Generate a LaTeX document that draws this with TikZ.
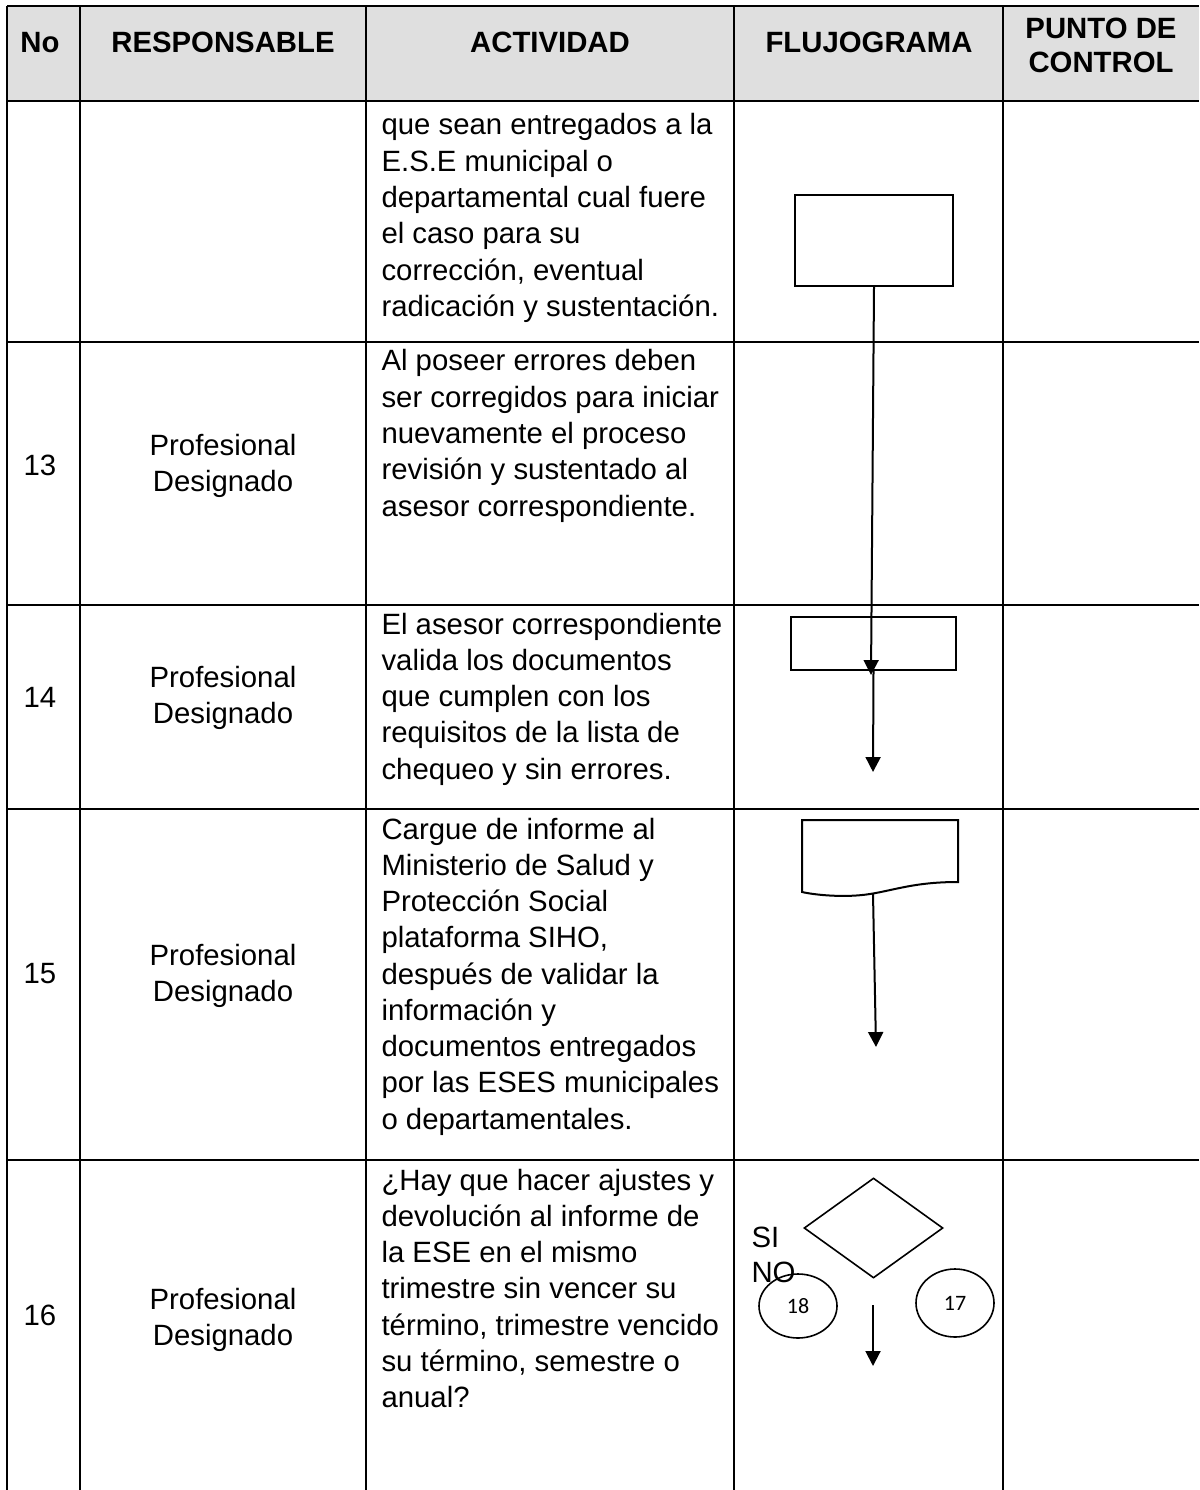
\documentclass[tikz,border=0pt]{standalone}
\usepackage{fontspec}
\setmainfont{Liberation Sans}
\newfontfamily\numfont{Carlito}
\usetikzlibrary{arrows.meta,shapes.geometric}
\newcommand{\cellstack}[1]{\begin{tabular}[t]{@{}l@{}}#1\end{tabular}}
\newcommand{\cellstackc}[1]{\begin{tabular}[t]{@{}c@{}}#1\end{tabular}}
\definecolor{hdrfill}{RGB}{223,223,223}
\begin{document}
\begin{tikzpicture}[x=0.375pt,y=-0.375pt,
  txt/.style={inner sep=0pt, font=\fontsize{11}{13.6}\selectfont},
  hdr/.style={inner sep=0pt, font=\fontsize{11}{12.75}\selectfont\bfseries},
  grid/.style={line width=0.75pt, draw=black},
  box/.style={draw=black, line width=0.75pt, rectangle, inner sep=0pt},
  flow/.style={draw=black, line width=0.75pt, -{Triangle[width=5.6pt,length=5.6pt]}},
  conn/.style={draw=black, line width=0.6pt, ellipse, inner sep=0pt, font=\numfont\fontsize{8.25}{9}\selectfont}]
\useasboundingbox (0,0) rectangle (1199,1490);
% header background
\fill[hdrfill] (7,6) rectangle (1199,101);
% grid
\draw[grid] (7,6) -- (1199,6);
\foreach \yy in {101,342,605,809,1160} { \draw[grid] (7,\yy) -- (1199,\yy); }
\foreach \xx in {7,80,366,734,1003} { \draw[grid] (\xx,6) -- (\xx,1490); }
% header texts
\node[hdr, anchor=base] (hNo) at (40,53) {No};
\node[hdr, anchor=base] (hResp) at (223,53) {RESPONSABLE};
\node[hdr, anchor=base] (hAct) at (550,53) {ACTIVIDAD};
\node[hdr, anchor=base] (hFlu) at (869,53) {FLUJOGRAMA};
\node[hdr, anchor=base] (hPto) at (1101,39) {\cellstackc{PUNTO DE\\CONTROL}};
% row 12
\node[txt, anchor=base west] (a12) at (381,135) {\cellstack{que sean entregados a la\\E.S.E municipal o\\departamental cual fuere\\el caso para su\\corrección, eventual\\radicación y sustentación.}};
% row 13
\node[txt, anchor=base] (n13) at (40,476) {13};
\node[txt, anchor=base] (r13) at (223,455) {\cellstackc{Profesional\\Designado}};
\node[txt, anchor=base west] (a13) at (381,371) {\cellstack{Al poseer errores deben\\ser corregidos para iniciar\\nuevamente el proceso\\revisión y sustentado al\\asesor correspondiente.}};
% row 14
\node[txt, anchor=base] (n14) at (40,707) {14};
\node[txt, anchor=base] (r14) at (223,687) {\cellstackc{Profesional\\Designado}};
\node[txt, anchor=base west] (a14) at (381,634) {\cellstack{El asesor correspondiente\\valida los documentos\\que cumplen con los\\requisitos de la lista de\\chequeo y sin errores.}};
% row 15
\node[txt, anchor=base] (n15) at (40,983) {15};
\node[txt, anchor=base] (r15) at (223,965) {\cellstackc{Profesional\\Designado}};
\node[txt, anchor=base west] (a15) at (381,839) {\cellstack{Cargue de informe al\\Ministerio de Salud y\\Protección Social\\plataforma SIHO,\\después de validar la\\información y\\documentos entregados\\por las ESES municipales\\o departamentales.}};
% row 16
\node[txt, anchor=base] (n16) at (40,1325) {16};
\node[txt, anchor=base] (r16) at (223,1309) {\cellstackc{Profesional\\Designado}};
\node[txt, anchor=base west] (a16) at (381,1190) {\cellstack{¿Hay que hacer ajustes y\\devolución al informe de\\la ESE en el mismo\\trimestre sin vencer su\\término, trimestre vencido\\su término, semestre o\\anual?}};
% flowchart shapes
\node[box, minimum width=59.25pt, minimum height=34.1pt] (rectA) at (874,240.5) {};
\node[box, minimum width=61.9pt, minimum height=19.9pt] (rectB) at (873.5,643.5) {};
\draw[line width=0.75pt] (802,820) -- (958,820) -- (958,882)
  .. controls (915,882) and (895,890) .. (870,894)
  .. controls (845,898) and (815,895) .. (802,892) -- cycle;
\coordinate (docbot) at (873,894);
\node[draw=black, line width=0.6pt, diamond, inner sep=0pt, minimum width=52.1pt, minimum height=37.5pt] (dec) at (873.5,1228) {};
\node[conn, minimum width=29.25pt, minimum height=24pt] (c18) at (798,1306) {18};
\node[conn, minimum width=29.25pt, minimum height=25.5pt] (c17) at (955,1303) {17};
\node[txt, anchor=base west] (lsi) at (751,1247) {SI};
\node[txt, anchor=base west] (lno) at (751,1282) {NO};
% connectors
\coordinate (tip1) at (871,675);
\coordinate (tip2) at (873,772);
\coordinate (tip3) at (876,1047);
\coordinate (start4) at (873,1305);
\coordinate (tip4) at (873,1366);
\draw[flow] (rectA.south) -- (tip1);
\draw[flow] (rectB.south) -- (tip2);
\draw[flow] (docbot) -- (tip3);
\draw[flow] (start4) -- (tip4);
\end{tikzpicture}
\end{document}
